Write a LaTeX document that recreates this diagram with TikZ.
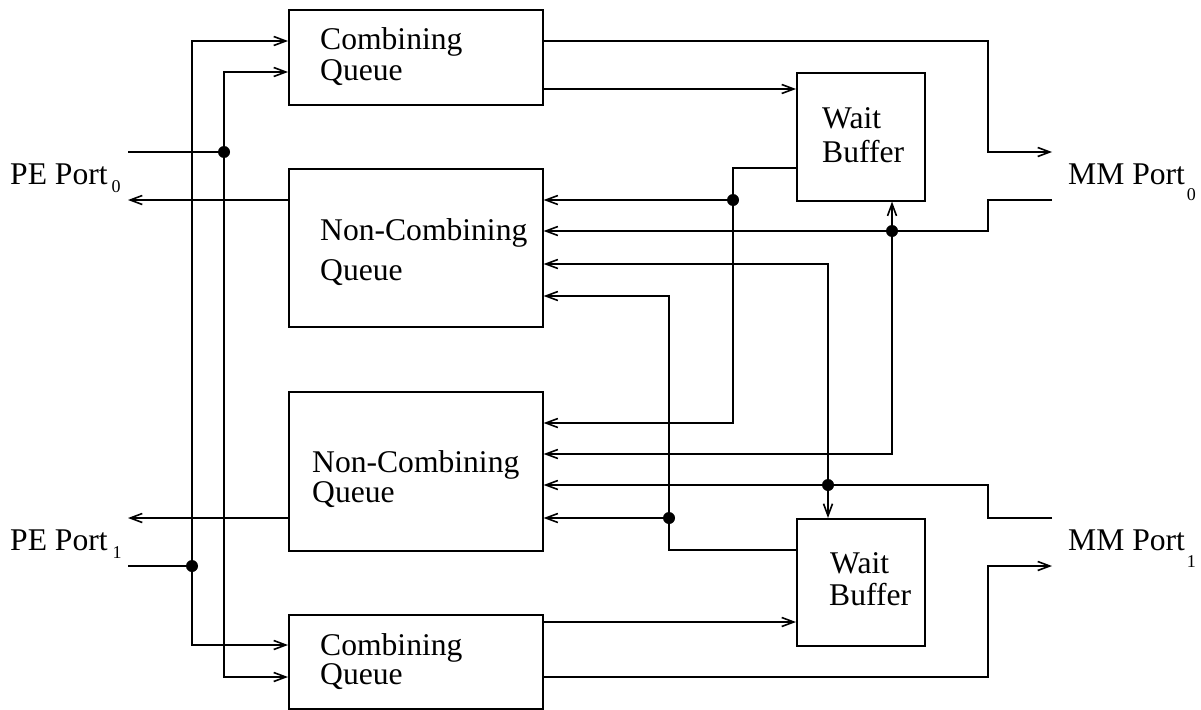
\documentclass[tikz,border=0pt]{standalone}
\usepackage{fontspec}
\setmainfont{Liberation Serif}
\usetikzlibrary{arrows.meta}
\tikzset{
  box/.style={draw, line width=1.6pt, inner sep=0pt, anchor=north west},
  lbl/.style={anchor=base west, inner sep=0pt, font=\fontsize{31.6}{34}\selectfont},
  conn/.style={line width=1.6pt},
  arr/.style={conn, -{Straight Barb[length=12pt,width=9pt,line width=1.6pt]}},
  jdot/.style={fill=black}
}
\newcommand{\lowsub}[2]{\raisebox{-#1}{\fontsize{18}{18}\selectfont #2}}
\begin{document}
\begin{tikzpicture}[x=1pt,y=-1pt]
\useasboundingbox (0,0) rectangle (1201,709);
% boxes
\node[box, minimum width=254pt, minimum height=95pt]  (cq0)  at (288,9)   {};
\node[box, minimum width=254pt, minimum height=158pt] (ncq0) at (288,168) {};
\node[box, minimum width=254pt, minimum height=159pt] (ncq1) at (288,391) {};
\node[box, minimum width=254pt, minimum height=94pt]  (cq1)  at (288,614) {};
\node[box, minimum width=128pt, minimum height=128pt] (wb0)  at (796,72)  {};
\node[box, minimum width=128pt, minimum height=127pt] (wb1)  at (796,518) {};
% box texts
\node[lbl] (cq0a)  at (320,49)  {Combining};
\node[lbl] (cq0b)  at (320,81)  {Queue};
\node[lbl] (ncq0a) at (320,240) {Non-Combining};
\node[lbl] (ncq0b) at (320,280) {Queue};
\node[lbl] (ncq1a) at (312,472) {Non-Combining};
\node[lbl] (ncq1b) at (312,502) {Queue};
\node[lbl] (cq1a)  at (320,655) {Combining};
\node[lbl] (cq1b)  at (320,684) {Queue};
\node[lbl] (wb0a)  at (822,128) {Wait};
\node[lbl] (wb0b)  at (822,162) {Buffer};
\node[lbl] (wb1a)  at (830,573) {Wait};
\node[lbl] (wb1b)  at (829,605) {Buffer};
% port labels
\node[lbl] (pe0) at (10,184)   {PE Port\hspace{4pt}\lowsub{8pt}{0}};
\node[lbl] (pe1) at (10,550)   {PE Port\hspace{5pt}\lowsub{8pt}{1}};
\node[lbl] (mm0) at (1068,184) {MM Port\hspace{2pt}\lowsub{16pt}{0}};
\node[lbl] (mm1) at (1068,550) {MM Port\hspace{2pt}\lowsub{17pt}{1}};
% coordinates
\coordinate (pe0in)  at (128,152);
\coordinate (pe0out) at (128,200);
\coordinate (pe1out) at (128,518);
\coordinate (pe1in)  at (128,566);
\coordinate (mm0out) at (1052,152);
\coordinate (mm0in)  at (1052,200);
\coordinate (mm1in)  at (1052,518);
\coordinate (mm1out) at (1052,566);
\coordinate (d1) at (224,152);
\coordinate (d2) at (192,566);
\coordinate (d3) at (733,200);
\coordinate (d4) at (892,231);
\coordinate (d5) at (828,485);
\coordinate (d6) at (669,518);
% PE side
\draw[conn] (pe0in) -- (d1);
\draw[arr] (d1) |- (cq0.west |- 0,72);
\draw[arr] (d1) |- (cq1.west |- 0,677);
\draw[conn] (pe1in) -- (d2);
\draw[arr] (d2) |- (cq0.west |- 0,41);
\draw[arr] (d2) |- (cq1.west |- 0,645);
\draw[arr] (ncq0.west |- pe0out) -- (pe0out);
\draw[arr] (ncq1.west |- pe1out) -- (pe1out);
% combining queue outputs
\draw[arr] (cq0.east |- 0,41) -| (988,152) -- (mm0out);
\draw[arr] (cq0.east |- 0,89) -- (wb0.west |- 0,89);
\draw[arr] (cq1.east |- 0,622) -- (wb1.west |- 0,622);
\draw[arr] (cq1.east |- 0,677) -| (988,566) -- (mm1out);
% MM port 0 input
\draw[conn] (mm0in) -| (988,231) -- (d4);
\draw[arr] (d4) -- (ncq0.east |- d4);
\draw[arr] (d4) -- (wb0.south -| d4);
\draw[arr] (d4) |- (ncq1.east |- 0,454);
% MM port 1 input
\draw[conn] (mm1in) -| (988,485) -- (d5);
\draw[arr] (d5) -- (ncq1.east |- d5);
\draw[arr] (d5) -- (wb1.north -| d5);
\draw[arr] (d5) |- (ncq0.east |- 0,264);
% wait buffer 0 output
\draw[conn] (wb0.west |- 0,168) -| (d3);
\draw[arr] (d3) -- (ncq0.east |- d3);
\draw[arr] (d3) |- (ncq1.east |- 0,423);
% wait buffer 1 output
\draw[conn] (wb1.west |- 0,550) -| (d6);
\draw[arr] (d6) -- (ncq1.east |- d6);
\draw[arr] (d6) |- (ncq0.east |- 0,296);
% junction dots
\foreach \d in {d1,d2,d3,d4,d5,d6} \fill[jdot] (\d) circle (6pt);
\end{tikzpicture}
\end{document}
